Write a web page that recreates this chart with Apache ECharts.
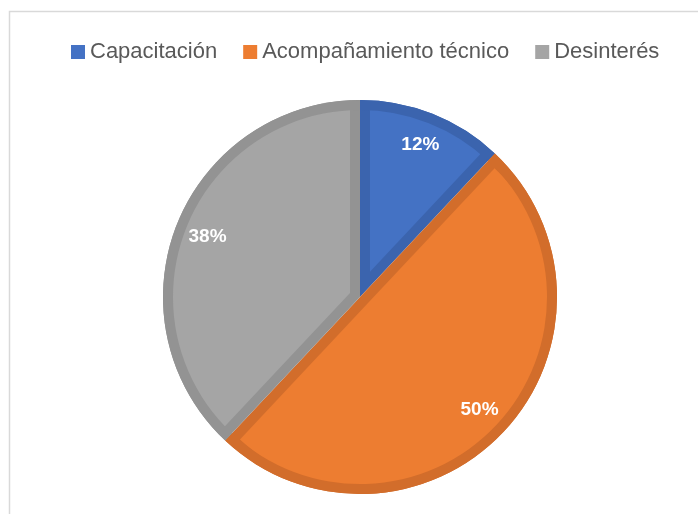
<!DOCTYPE html>
<html>
<head>
<meta charset="utf-8">
<script src="https://cdn.jsdelivr.net/npm/echarts@6/dist/echarts.min.js"></script>
<style>
  html, body { margin: 0; padding: 0; background: #fff; }
  #chart { width: 698px; height: 514px; }
</style>
</head>
<body>
<div id="chart"></div>
<script>
// datos del gráfico
const categorias = ["Capacitación", "Acompañamiento técnico", "Desinterés"];
const valores = [12, 50, 38];
const colores = ["#4472c4", "#ed7d31", "#a5a5a5"];
const bordes = ["#3b64ae", "#d26d2b", "#939393"];

const centro = [360, 297];
const radioExt = 197;
const borde = 10;

const chart = echarts.init(document.getElementById("chart"));

const total = valores.reduce((a, b) => a + b, 0);

// fondo oscuro: tarta completa con el color del borde
const serieBase = {
  name: "base",
  type: "pie",
  center: centro,
  radius: [0, radioExt],
  startAngle: 90,
  silent: true,
  label: { show: false },
  labelLine: { show: false },
  data: categorias.map((name, i) => ({
    name,
    value: valores[i],
    itemStyle: { color: bordes[i], borderWidth: 0 }
  }))
};

// relleno claro de cada sector, desplazado hacia fuera (efecto borde interior)
const seriesRelleno = categorias.map((nombre, k) => {
  const medio = Math.min((valores[k] / total) * Math.PI, Math.PI / 2);
  const desp = borde / Math.sin(medio);
  const r = Math.min(radioExt - borde - desp * Math.cos(medio) + 1, radioExt - 1 - desp);
  return {
    name: "relleno" + k,
    type: "pie",
    center: centro,
    radius: [0, r],
    startAngle: 90,
    silent: true,
    selectedMode: "multiple",
    selectedOffset: desp,
    label: { show: false },
    labelLine: { show: false },
    emphasis: { disabled: true },
    select: { itemStyle: { color: colores[k] } },
    data: categorias.map((name, i) => ({
      name,
      value: valores[i],
      selected: i === k,
      itemStyle: i === k
        ? { color: colores[i], borderWidth: 0 }
        : { color: "rgba(0,0,0,0)", opacity: 0, borderWidth: 0 }
    }))
  };
});

// anillo exterior oscuro
const serieAnillo = {
  name: "anillo",
  type: "pie",
  center: centro,
  radius: [radioExt - borde, radioExt],
  startAngle: 90,
  silent: true,
  label: { show: false },
  labelLine: { show: false },
  data: categorias.map((name, i) => ({
    name,
    value: valores[i],
    itemStyle: { color: bordes[i], borderWidth: 0 }
  }))
};

// solo para colocar las etiquetas
const serieEtiquetas = {
  name: "etiquetas",
  type: "pie",
  center: centro,
  radius: [125, radioExt],
  startAngle: 90,
  silent: true,
  z: 5,
  itemStyle: { color: "rgba(0,0,0,0)", borderWidth: 0 },
  labelLine: { show: false },
  label: {
    show: true,
    position: "inside",
    formatter: "{c}%",
    color: "#fff",
    fontSize: 19,
    fontWeight: "bold",
    fontFamily: "Liberation Sans"
  },
  data: categorias.map((name, i) => ({ name, value: valores[i] }))
};

const option = {
  animation: false,
  graphic: [
    {
      type: "rect",
      shape: { x: 9.5, y: 11.5, width: 720, height: 540 },
      style: { fill: "none", stroke: "#d9d9d9", lineWidth: 1.5 },
      silent: true
    }
  ],
  legend: {
    left: 66,
    top: 36,
    itemWidth: 14,
    itemHeight: 14,
    itemGap: 26,
    icon: "rect",
    selectedMode: false,
    textStyle: {
      color: "#595959",
      fontSize: 22,
      fontFamily: "Liberation Sans"
    },
    data: categorias.map((name, i) => ({
      name,
      itemStyle: { color: colores[i], borderWidth: 0 }
    }))
  },
  series: [serieBase, ...seriesRelleno, serieAnillo, serieEtiquetas]
};

chart.setOption(option);
</script>
</body>
</html>
